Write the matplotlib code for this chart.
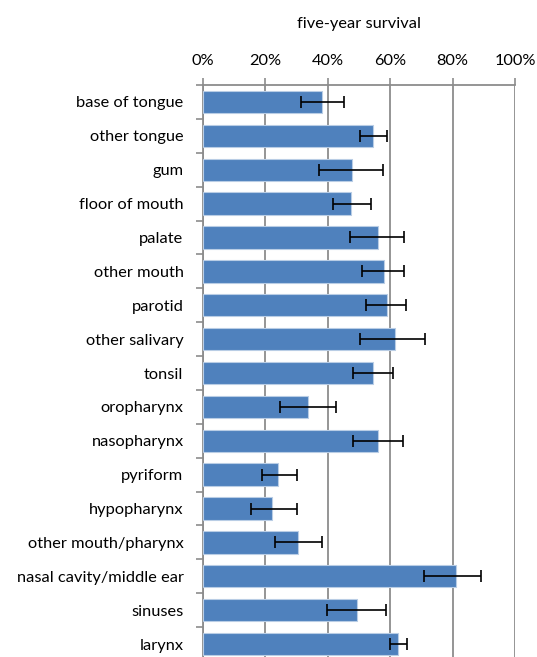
import matplotlib
matplotlib.use("Agg")
import matplotlib.pyplot as plt
import numpy as np
from matplotlib.ticker import FixedLocator, FuncFormatter

categories = ["base of tongue", "other tongue", "gum", "floor of mouth", "palate",
              "other mouth", "parotid", "other salivary", "tonsil", "oropharynx",
              "nasopharynx", "pyriform", "hypopharynx", "other mouth/pharynx",
              "nasal cavity/middle ear", "sinuses", "larynx"]
survival = [38.0, 54.4, 47.7, 47.3, 56.2, 57.9, 58.9, 61.5, 54.4, 33.5,
            56.2, 24.1, 22.0, 30.4, 81.1, 49.5, 62.4]
ci_low = [31.4, 50.2, 37.2, 41.7, 47.1, 51.1, 52.4, 50.2, 48.0, 24.7,
          48.0, 19.0, 15.5, 23.1, 70.7, 39.9, 59.9]
ci_high = [45.3, 59.1, 57.8, 53.8, 64.5, 64.5, 65.0, 71.1, 60.9, 42.7,
           64.0, 30.2, 30.2, 38.3, 89.1, 58.8, 65.3]
xticks = [0, 20, 40, 60, 80, 100]

plt.rcParams['font.family'] = ['Lato', 'DejaVu Sans']

fig = plt.figure(figsize=(5.37, 6.57), dpi=100)
W, H = 537, 657
left, right, top, bottom = 203, 515, 85, 661
ax = fig.add_axes([left / W, 1 - bottom / H, (right - left) / W, (bottom - top) / H])

y = np.arange(len(categories))
vals = np.array(survival)
xerr = np.vstack([vals - np.array(ci_low), np.array(ci_high) - vals])
ax.barh(y, vals, height=0.66, color="#4F81BD", edgecolor="#B9CDE5", linewidth=0.8, zorder=3)
ax.errorbar(vals, y, xerr=xerr, fmt="none", ecolor="black", elinewidth=1.2,
            capsize=4, capthick=1.2, zorder=4)

ax.set_xlim(0, 100)
ax.set_ylim(len(categories) - 0.5, -0.5)
ax.xaxis.set_major_locator(FixedLocator(xticks))
ax.xaxis.set_major_formatter(FuncFormatter(lambda v, p: f"{int(v)}%"))
ax.xaxis.tick_top()
ax.xaxis.set_label_position("top")
ax.set_xlabel("five-year survival", fontsize=11.8, color="#000000", labelpad=19)
ax.grid(axis="x", color="#8C8C8C", linewidth=1.3, zorder=0)

ax.set_yticks(y)
ax.set_yticklabels(categories, fontsize=11.8)
ax.set_yticks(np.arange(len(categories) + 1) - 0.5, minor=True)
ax.tick_params(axis="y", which="major", length=0, pad=14)
ax.tick_params(axis="y", which="minor", length=5, color="#8C8C8C", width=1.2)
ax.tick_params(axis="x", which="major", length=5, color="#8C8C8C", width=1.2,
               labelsize=11.8, pad=7)

for s in ["bottom", "right"]:
    ax.spines[s].set_visible(False)
for s in ["top", "left"]:
    ax.spines[s].set_color("#8C8C8C")
    ax.spines[s].set_linewidth(1.3)

fig.savefig("out.png", dpi=100)
